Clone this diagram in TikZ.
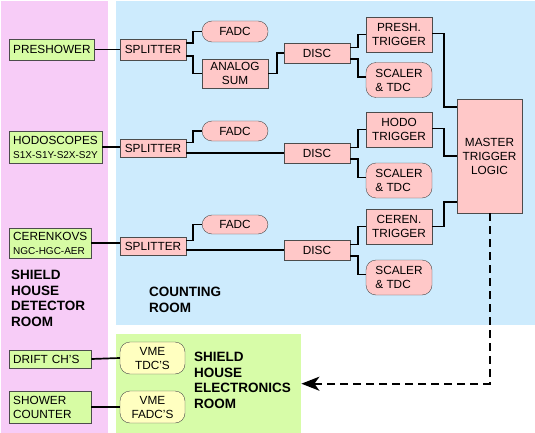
\documentclass[tikz,border=0pt]{standalone}
\usepackage{fontspec}
\setmainfont{Liberation Sans}
\usetikzlibrary{arrows.meta}

\definecolor{detpink}{HTML}{F7CCF7}
\definecolor{countblue}{HTML}{CDEBFD}
\definecolor{elecgreen}{HTML}{D7FCA8}
\definecolor{detgreen}{HTML}{D7FCA4}
\definecolor{elsalmon}{HTML}{FFC8C8}
\definecolor{vmeyellow}{HTML}{FFFFC0}

\tikzset{
  room/.style={fill=#1, anchor=north west, inner sep=0},
  box/.style={draw=black!70, fill=elsalmon, minimum width=66, minimum height=20,
    inner sep=1, align=center, font=\fontsize{11.8}{14}\selectfont},
  rbox/.style={box, rounded corners=10},
  det/.style={box, fill=detgreen, anchor=west, minimum width=0, inner xsep=4, align=left},
  vme/.style={rbox, fill=vmeyellow, minimum width=65, minimum height=32},
  roomlabel/.style={anchor=north west, inner sep=0, align=left,
    font=\fontsize{13.5}{15.5}\selectfont\bfseries},
  wire/.style={line width=1.7},
  elbow/.style={to path={-- ++(#1,0) |- (\tikztotarget)}},
}
\newcommand{\subfont}{\fontsize{10}{11}\selectfont}

\begin{document}
\begin{tikzpicture}[x=1pt, y=-1pt]
  \useasboundingbox (0,0) rectangle (535,433);
  % rooms
  \node[room=detpink, minimum width=107, minimum height=433] (shdet) at (1,1) {};
  \node[room=countblue, minimum width=419, minimum height=324] (count) at (116,1) {};
  \node[room=elecgreen, minimum width=185, minimum height=99] (elec) at (116,334) {};
  \node[roomlabel] at (11,270) {SHIELD\\HOUSE\\DETECTOR\\ROOM};
  \node[roomlabel] at (149,287) {COUNTING\\ROOM};
  \node[roomlabel] at (194,352) {SHIELD\\HOUSE\\ELECTRONICS\\ROOM};

  % detectors
  \node[det, minimum height=21] (pre) at (9,49.5) {PRESHOWER};
  \node[det, minimum height=32] (hodo) at (9,147) {HODOSCOPES\\{\subfont S1X-S1Y-S2X-S2Y}};
  \node[det, minimum height=30] (cer) at (9,243) {CERENKOVS\\{\subfont NGC-HGC-AER}};
  \node[det, text width=74, minimum height=18] (drift) at (9,359) {DRIFT CH'S};
  \node[det, text width=74, minimum height=32] (shower) at (9,407) {SHOWER\\COUNTER};

  % counting room
  \node[box, minimum height=21] (spl1) at (153,49.5) {SPLITTER};
  \node[box, minimum height=18] (spl2) at (153,148) {SPLITTER};
  \node[box, minimum height=18] (spl3) at (153,246) {SPLITTER};
  \node[rbox, minimum height=21] (fadc1) at (235,31.5) {FADC};
  \node[rbox, minimum height=20] (fadc2) at (235,131) {FADC};
  \node[rbox, minimum height=19] (fadc3) at (235,224.5) {FADC};
  \node[box, minimum height=29] (asum) at (235,73.5) {ANALOG\\SUM};
  \node[box] (disc1) at (317,53) {DISC};
  \node[box] (disc2) at (317,153) {DISC};
  \node[box] (disc3) at (317,250) {DISC};
  \node[box, minimum height=35] (preshtr) at (399,34.5) {PRESH.\\TRIGGER};
  \node[box, minimum height=35] (hodotr) at (399,129.5) {HODO\\TRIGGER};
  \node[box, minimum height=35] (certr) at (399,226.5) {CEREN.\\TRIGGER};
  \node[rbox, minimum height=35, align=left] (sc1) at (399,80) {SCALER\\\& TDC};
  \node[rbox, minimum height=35, align=left] (sc2) at (399,180.5) {SCALER\\\& TDC};
  \node[rbox, minimum height=35, align=left] (sc3) at (399,277.5) {SCALER\\\& TDC};
  \node[box, minimum width=65, minimum height=114] (master) at (489.5,156) {MASTER\\TRIGGER\\LOGIC};

  % electronics room
  \node[vme] (tdc) at (152.5,358) {VME\\TDC'S};
  \node[vme] (vfadc) at (152.5,407) {VME\\FADC'S};

  \draw[wire] (pre.east) -- (spl1.west);
  \draw[wire] (hodo.east) -- (hodo.east -| spl2.west);
  \draw[wire] (cer.east) -- (cer.east -| spl3.west);
  \draw[wire] (drift.east) -- (tdc.west);
  \draw[wire] (shower.east) -- (vfadc.west);

  \draw[wire] ([yshift=6.5]spl1.east) to[elbow=7] (fadc1.west);
  \draw[wire] ([yshift=-6.5]spl1.east) to[elbow=7] (asum.west);
  \draw[wire] (asum.east) to[elbow=9] (disc1.west);
  \draw[wire] ([yshift=5.5]spl2.east) to[elbow=7] (fadc2.west);
  \draw[wire] (spl2.east |- disc2.west) -- (disc2.west);
  \draw[wire] ([yshift=5.5]spl3.east) to[elbow=7] (fadc3.west);
  \draw[wire] (spl3.east |- disc3.west) -- (disc3.west);

  \draw[wire] ([yshift=5.5]disc1.east) to[elbow=8] (preshtr.west);
  \draw[wire] ([yshift=-6]disc1.east) to[elbow=8] ([yshift=3]sc1.west);
  \draw[wire] ([yshift=5.5]disc2.east) to[elbow=8] (hodotr.west);
  \draw[wire] ([yshift=-6]disc2.east) to[elbow=8] ([yshift=3]sc2.west);
  \draw[wire] ([yshift=5.5]disc3.east) to[elbow=8] (certr.west);
  \draw[wire] ([yshift=-6]disc3.east) to[elbow=8] ([yshift=3]sc3.west);

  \draw[wire] ([yshift=1]preshtr.east) to[elbow=12] ([yshift=49]master.west);
  \draw[wire] ([yshift=1]hodotr.east) to[elbow=12] (master.west);
  \draw[wire] (certr.east) to[elbow=12] ([yshift=-46]master.west);

  \draw[wire, line width=2, dash pattern=on 8 off 5, -{Stealth[length=18,width=14,inset=5]}]
    (master.south) |- (elec.east);
\end{tikzpicture}
\end{document}
